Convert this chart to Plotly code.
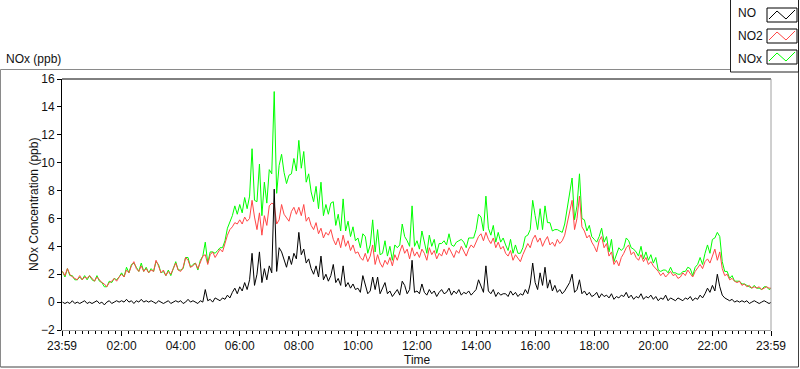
import plotly.graph_objects as go

# ---- data (5-minute samples, one row per hour, last value = 24:00) ----
NO = [
    0.0, -0.1, 0.0, -0.1, 0.1, -0.1, 0.0, -0.1, 0.0, 0.1, -0.1, 0.0,
    -0.1, 0.0, 0.1, -0.1, 0.0, -0.2, 0.0, 0.1, -0.1, 0.0, 0.1, 0.0,
    0.1, 0.0, 0.2, 0.0, 0.1, -0.1, 0.1, 0.0, 0.2, 0.0, 0.1, 0.0,
    0.1, 0.0, -0.1, 0.1, 0.0, -0.1, 0.0, 0.1, -0.1, 0.0, 0.1, 0.0,
    0.1, -0.1, 0.0, 0.2, 0.0, 0.1, 0.0, -0.1, 0.1, 0.0, 0.9, 0.1,
    0.2, 0.0, 0.3, 0.2, 0.1, 0.3, 0.2, 0.5, 0.3, 0.7, 1.0, 0.6,
    1.1, 0.8, 1.4, 0.9, 1.6, 3.5, 1.2, 2.0, 3.6, 1.4, 2.4, 1.6,
    2.6, 2.1, 8.1, 2.2, 3.9, 3.6, 3.0, 2.5, 3.3, 2.7, 3.5, 3.1,
    5.0, 3.4, 3.8, 2.8, 3.1, 2.4, 2.0, 2.6, 1.8, 3.3, 1.6, 2.0,
    1.5, 1.9, 2.7, 1.4, 1.7, 1.2, 2.6, 1.1, 1.4, 1.0, 1.3, 0.9,
    1.0, 0.7, 1.9, 1.2, 0.6, 0.8, 1.8, 0.9, 1.8, 0.6, 1.0, 1.4,
    0.6, 0.8, 0.4, 0.7, 0.9, 0.5, 1.5, 1.2, 0.6, 0.9, 3.0, 0.7,
    0.8, 0.6, 1.3, 0.7, 0.5, 0.9, 0.6, 0.8, 0.4, 0.7, 0.9, 0.6,
    0.7, 1.0, 0.5, 0.8, 0.6, 0.9, 0.5, 0.7, 0.6, 0.8, 0.5, 0.7,
    0.9, 1.6, 1.2, 0.7, 2.6, 0.8, 0.6, 0.9, 0.4, 0.7, 0.5, 0.6,
    0.6, 0.4, 0.8, 0.5, 0.7, 0.4, 0.6, 0.5, 0.9, 0.6, 1.3, 2.8,
    1.4, 0.9, 2.1, 1.2, 2.5, 1.0, 1.6, 0.8, 1.2, 0.7, 0.9, 0.6,
    0.8, 1.1, 1.4, 2.0, 0.7, 0.9, 1.6, 0.6, 0.8, 0.5, 0.7, 0.4,
    0.5, 0.7, 0.3, 0.6, 0.4, 0.5, 0.3, 0.6, 0.2, 0.4, 0.3, 0.5,
    0.4, 0.7, 0.3, 0.5, 0.2, 0.4, 0.3, 0.6, 0.2, 0.4, 0.3, 0.5,
    0.2, 0.4, 0.1, 0.3, 0.2, 0.5, 0.1, 0.3, 0.2, 0.1, 0.3, 0.2,
    0.1, 0.3, 0.2, 0.4, 0.1, 0.3, 0.2, 0.5, 0.3, 0.6, 1.0, 0.7,
    1.2, 0.8, 2.0, 1.1, 0.5, 0.3, 0.2, 0.1, 0.2, 0.0, 0.1, 0.0,
    0.1, 0.0, 0.1, -0.1, 0.0, 0.1, 0.0, -0.1, 0.0, 0.1, 0.0, -0.1,
    0.0,
]

NO2 = [
    2.2, 1.9, 2.4, 2.0, 1.8, 1.7, 1.6, 1.9, 1.6, 1.8, 1.7, 1.9,
    1.7, 1.5, 1.8, 1.6, 1.4, 1.3, 1.1, 1.4, 1.5, 1.7, 1.5, 1.8,
    2.0, 1.8, 2.3, 2.1, 2.6, 2.9, 2.4, 2.2, 2.6, 2.2, 2.4, 2.1,
    2.3, 2.2, 3.0, 2.6, 2.1, 2.3, 1.9, 2.2, 2.0, 2.4, 2.8, 2.3,
    2.2, 2.5, 3.2, 3.0, 2.5, 2.6, 2.8, 2.4, 2.9, 3.3, 3.4, 2.7,
    3.4, 3.6, 3.2, 3.5, 3.8, 3.6, 4.2, 4.8, 5.2, 5.4, 5.7, 5.6,
    5.9, 5.6, 6.1, 5.8, 6.0, 7.3, 6.1, 5.2, 6.4, 4.8, 6.2, 5.5,
    6.9, 7.1, 7.0, 5.6, 5.9, 7.0, 6.3, 6.0, 5.8, 6.5, 6.8, 6.3,
    6.8, 6.2, 7.0, 5.8, 6.1, 5.5, 5.2, 5.7, 4.9, 5.3, 4.6, 5.0,
    4.8, 5.2, 4.5, 4.1, 4.6, 3.9, 4.8, 4.0, 4.4, 3.7, 4.1, 3.5,
    3.6, 3.2, 3.0, 3.5, 2.9, 3.3, 4.1, 2.7, 3.4, 2.8, 2.5, 3.0,
    2.7, 3.2, 2.6, 3.4, 3.0, 3.6, 4.1, 3.5, 3.8, 3.1, 3.9, 3.3,
    3.6, 3.2, 3.8, 3.5, 3.0, 3.9, 3.4, 3.7, 3.1, 3.5, 3.3, 3.8,
    3.4, 3.9, 3.6, 3.2, 3.7, 3.5, 4.0, 3.6, 3.3, 3.8, 4.1, 3.9,
    4.3, 4.7, 4.9, 4.4, 5.0, 4.5, 4.2, 4.6, 3.9, 4.3, 3.8, 4.0,
    3.5, 3.3, 3.7, 3.0, 3.4, 3.1, 2.9, 3.4, 3.8, 4.2, 3.9, 4.5,
    4.8, 4.3, 4.6, 4.0, 4.4, 4.7, 4.1, 4.3, 4.0, 4.5, 4.2, 4.4,
    4.8, 5.6, 6.3, 7.3, 5.2, 6.0, 7.6, 5.4, 5.1, 4.6, 4.8, 4.3,
    4.0, 3.6, 4.4, 4.7, 3.9, 4.2, 3.3, 3.6, 2.7, 3.0, 2.6, 3.2,
    3.5, 3.9, 4.1, 3.4, 3.6, 3.2, 3.0, 3.4, 2.9, 3.2, 2.7, 2.9,
    2.6, 2.4, 2.2, 1.9, 2.1, 1.8, 2.0, 2.2, 1.9, 2.0, 1.7, 1.8,
    2.1, 1.9, 2.3, 2.0, 1.8, 2.2, 2.5, 2.7, 2.4, 2.9, 3.1, 2.8,
    3.3, 3.8, 3.0, 3.6, 2.4, 1.9, 2.0, 1.6, 1.7, 1.5, 1.4, 1.5,
    1.2, 1.3, 1.1, 1.2, 1.0, 1.1, 1.0, 1.1, 0.9, 1.0, 1.1, 1.0,
    1.0,
]

NOX = [
    2.2, 1.8, 2.4, 1.9, 1.9, 1.6, 1.6, 1.8, 1.6, 1.9, 1.6, 1.9,
    1.6, 1.5, 1.9, 1.5, 1.4, 1.1, 1.1, 1.5, 1.4, 1.7, 1.6, 1.8,
    2.1, 1.8, 2.5, 2.1, 2.7, 2.8, 2.5, 2.2, 2.8, 2.2, 2.5, 2.1,
    2.4, 2.2, 2.9, 2.7, 2.1, 2.2, 1.9, 2.3, 1.9, 2.4, 2.9, 2.3,
    2.3, 2.4, 3.2, 3.2, 2.5, 2.7, 2.8, 2.3, 3.0, 3.3, 4.3, 2.8,
    3.6, 3.6, 3.5, 3.7, 3.9, 3.9, 4.4, 5.3, 5.7, 6.2, 6.9, 6.3,
    7.0, 6.4, 7.5, 6.7, 7.6, 11.0, 7.3, 7.2, 9.9, 6.2, 8.6, 7.1,
    9.5, 9.2, 15.1, 7.8, 9.8, 10.6, 9.3, 8.5, 9.1, 9.2, 10.3, 9.4,
    11.6, 9.6, 10.8, 8.6, 9.2, 7.9, 7.2, 8.3, 6.7, 8.6, 6.2, 7.0,
    6.3, 7.1, 7.2, 5.5, 6.3, 5.1, 7.4, 5.1, 5.8, 4.7, 5.4, 4.4,
    4.6, 3.9, 4.9, 4.7, 3.5, 4.1, 5.9, 3.6, 5.2, 3.4, 3.5, 4.4,
    3.3, 4.0, 3.0, 4.1, 3.9, 4.1, 5.6, 4.7, 4.4, 4.0, 6.9, 4.0,
    4.4, 3.8, 5.1, 4.2, 3.5, 4.8, 4.0, 4.5, 3.5, 4.2, 4.2, 4.4,
    4.1, 4.9, 4.1, 4.0, 4.3, 4.4, 4.5, 4.3, 3.9, 4.6, 4.6, 4.6,
    5.2, 6.3, 6.1, 5.1, 7.6, 5.3, 4.8, 5.5, 4.3, 5.0, 4.3, 4.6,
    4.1, 3.7, 4.5, 3.5, 4.1, 3.5, 3.5, 3.9, 4.7, 4.8, 5.2, 7.3,
    6.2, 5.2, 6.7, 5.2, 6.9, 5.7, 5.7, 5.1, 5.2, 5.2, 5.1, 5.0,
    5.6, 6.7, 7.7, 8.9, 5.9, 6.9, 9.2, 6.0, 5.9, 5.1, 5.5, 4.7,
    4.5, 4.3, 4.7, 5.3, 4.3, 4.7, 3.6, 4.5, 2.9, 3.4, 3.9, 3.7,
    3.9, 4.6, 4.4, 3.9, 3.8, 3.6, 3.3, 4.0, 3.1, 3.6, 3.0, 3.4,
    2.8, 3.2, 2.3, 2.2, 2.3, 2.3, 2.1, 2.5, 2.1, 2.1, 2.0, 2.0,
    2.2, 2.2, 2.5, 2.4, 1.9, 2.5, 2.7, 3.2, 2.7, 3.5, 4.1, 3.5,
    4.5, 4.6, 5.0, 4.7, 2.9, 2.2, 2.2, 1.7, 1.9, 1.5, 1.5, 1.5,
    1.3, 1.3, 1.2, 1.1, 1.0, 1.2, 1.0, 1.0, 0.9, 1.1, 1.1, 0.9,
    1.0,
]

SAMPLE_MINUTES = 5
TICK_HOURS = [-1 / 60, 2, 4, 6, 8, 10, 12, 14, 16, 18, 20, 22, 24 - 1 / 60]
TICK_LABELS = ["23:59", "02:00", "04:00", "06:00", "08:00", "10:00", "12:00",
               "14:00", "16:00", "18:00", "20:00", "22:00", "23:59"]
SERIES_NAMES = ["NO", "NO2", "NOx"]
SERIES_COLORS = ["#000000", "#ff4646", "#00ff00"]

hours = [i * SAMPLE_MINUTES / 60 for i in range(len(NO))]

# ---- pixel layout helpers ----
W, H = 800, 369
L, R, T, B = 62, 771, 79, 330


def px(x):
    return (x - L) / (R - L)


def py(y):
    return (B - y) / (B - T)


FONT = "Liberation Sans"
TXT = "#111111"

fig = go.Figure()
series = {"NO": NO, "NO2": NO2, "NOx": NOX}
# draw green first, red over it, black on top
for name in ["NOx", "NO2", "NO"]:
    color = SERIES_COLORS[SERIES_NAMES.index(name)]
    fig.add_trace(go.Scatter(x=hours, y=series[name], mode="lines", name=name,
                             line=dict(color=color, width=1), showlegend=False))

shapes = []


def line(x0, y0, x1, y1, color, width=1):
    shapes.append(dict(type="line", xref="paper", yref="paper",
                       x0=px(x0), y0=py(y0), x1=px(x1), y1=py(y1),
                       line=dict(color=color, width=width), layer="above"))


# plot frame: top black, right gray
line(L, T, R, T, "#000000")
line(R, T, R, B, "#a0a0a0")
# outer panel border
line(0.5, 69.5, 730, 69.5, "#8a8a8a")
line(0.5, 69.5, 0.5, 367, "#8a8a8a")
line(0.5, 367, 798.5, 367, "#404040")
line(798.5, 72, 798.5, 367, "#404040")
# legend box
line(730.5, 0, 730.5, 72, "#202020")
line(730.5, 72, 798.5, 72, "#202020")
line(798.5, 0, 798.5, 72, "#202020")

annotations = [
    dict(text="NOx (ppb)", x=px(4), y=py(59), xref="paper", yref="paper",
         xanchor="left", yanchor="middle", showarrow=False,
         font=dict(family=FONT, size=12, color=TXT)),
    dict(text="NOx Concentration (ppb)", x=px(34), y=py(205), xref="paper",
         yref="paper", textangle=-90, xanchor="center", yanchor="middle",
         showarrow=False, font=dict(family=FONT, size=12, color=TXT)),
    dict(text="Time", x=px(417), y=py(360), xref="paper", yref="paper",
         xanchor="center", yanchor="middle", showarrow=False,
         font=dict(family=FONT, size=12, color=TXT)),
]

# custom legend: label + framed zigzag sample
legend_rows = [(13, 8, 22), (36, 29, 43), (59, 50, 64)]
for (ty, by0, by1), name, color in zip(legend_rows, SERIES_NAMES, SERIES_COLORS):
    annotations.append(dict(text=name, x=px(736), y=py(ty), xref="paper",
                            yref="paper", xanchor="left", yanchor="middle",
                            showarrow=False,
                            font=dict(family=FONT, size=12, color=TXT)))
    shapes.append(dict(type="rect", xref="paper", yref="paper",
                       x0=px(767), y0=py(by0), x1=px(797), y1=py(by1),
                       line=dict(color="#000000", width=1), fillcolor="white",
                       layer="above"))
    pts = [(769, by1 - 3), (777, by0 + 3), (786, by1 - 3), (795, by0 + 2)]
    path = "M " + " L ".join(f"{px(a)},{py(b)}" for a, b in pts)
    shapes.append(dict(type="path", xref="paper", yref="paper", path=path,
                       line=dict(color=color, width=1), layer="above"))

fig.update_layout(
    width=W, height=H,
    margin=dict(l=L, r=W - R, t=T, b=H - B, pad=0),
    paper_bgcolor="white", plot_bgcolor="white",
    font=dict(family=FONT, size=12, color=TXT),
    showlegend=False,
    shapes=shapes, annotations=annotations,
    xaxis=dict(
        range=[-1 / 60, 24 - 1 / 60], tickmode="array", tickvals=TICK_HOURS,
        ticktext=TICK_LABELS, showgrid=False, zeroline=False,
        showline=True, linecolor="#a0a0a0", linewidth=1,
        ticks="outside", ticklen=5, tickcolor="#000000", tickwidth=1,
        tickfont=dict(family=FONT, size=12, color=TXT),
        minor=dict(tick0=0, dtick=2 / 9, ticks="outside", ticklen=3,
                   tickcolor="#000000", tickwidth=1, showgrid=False),
    ),
    yaxis=dict(
        range=[-2, 16], tickmode="linear", tick0=-2, dtick=2,
        showgrid=False, zeroline=False,
        showline=True, linecolor="#000000", linewidth=1,
        ticks="outside", ticklen=4, tickcolor="#000000", tickwidth=1,
        tickfont=dict(family=FONT, size=12, color=TXT),
    ),
)

fig.write_html(
    "out.html",
    config={"displayModeBar": False},
    post_script="document.body.style.margin='0';document.body.style.padding='0';",
)
